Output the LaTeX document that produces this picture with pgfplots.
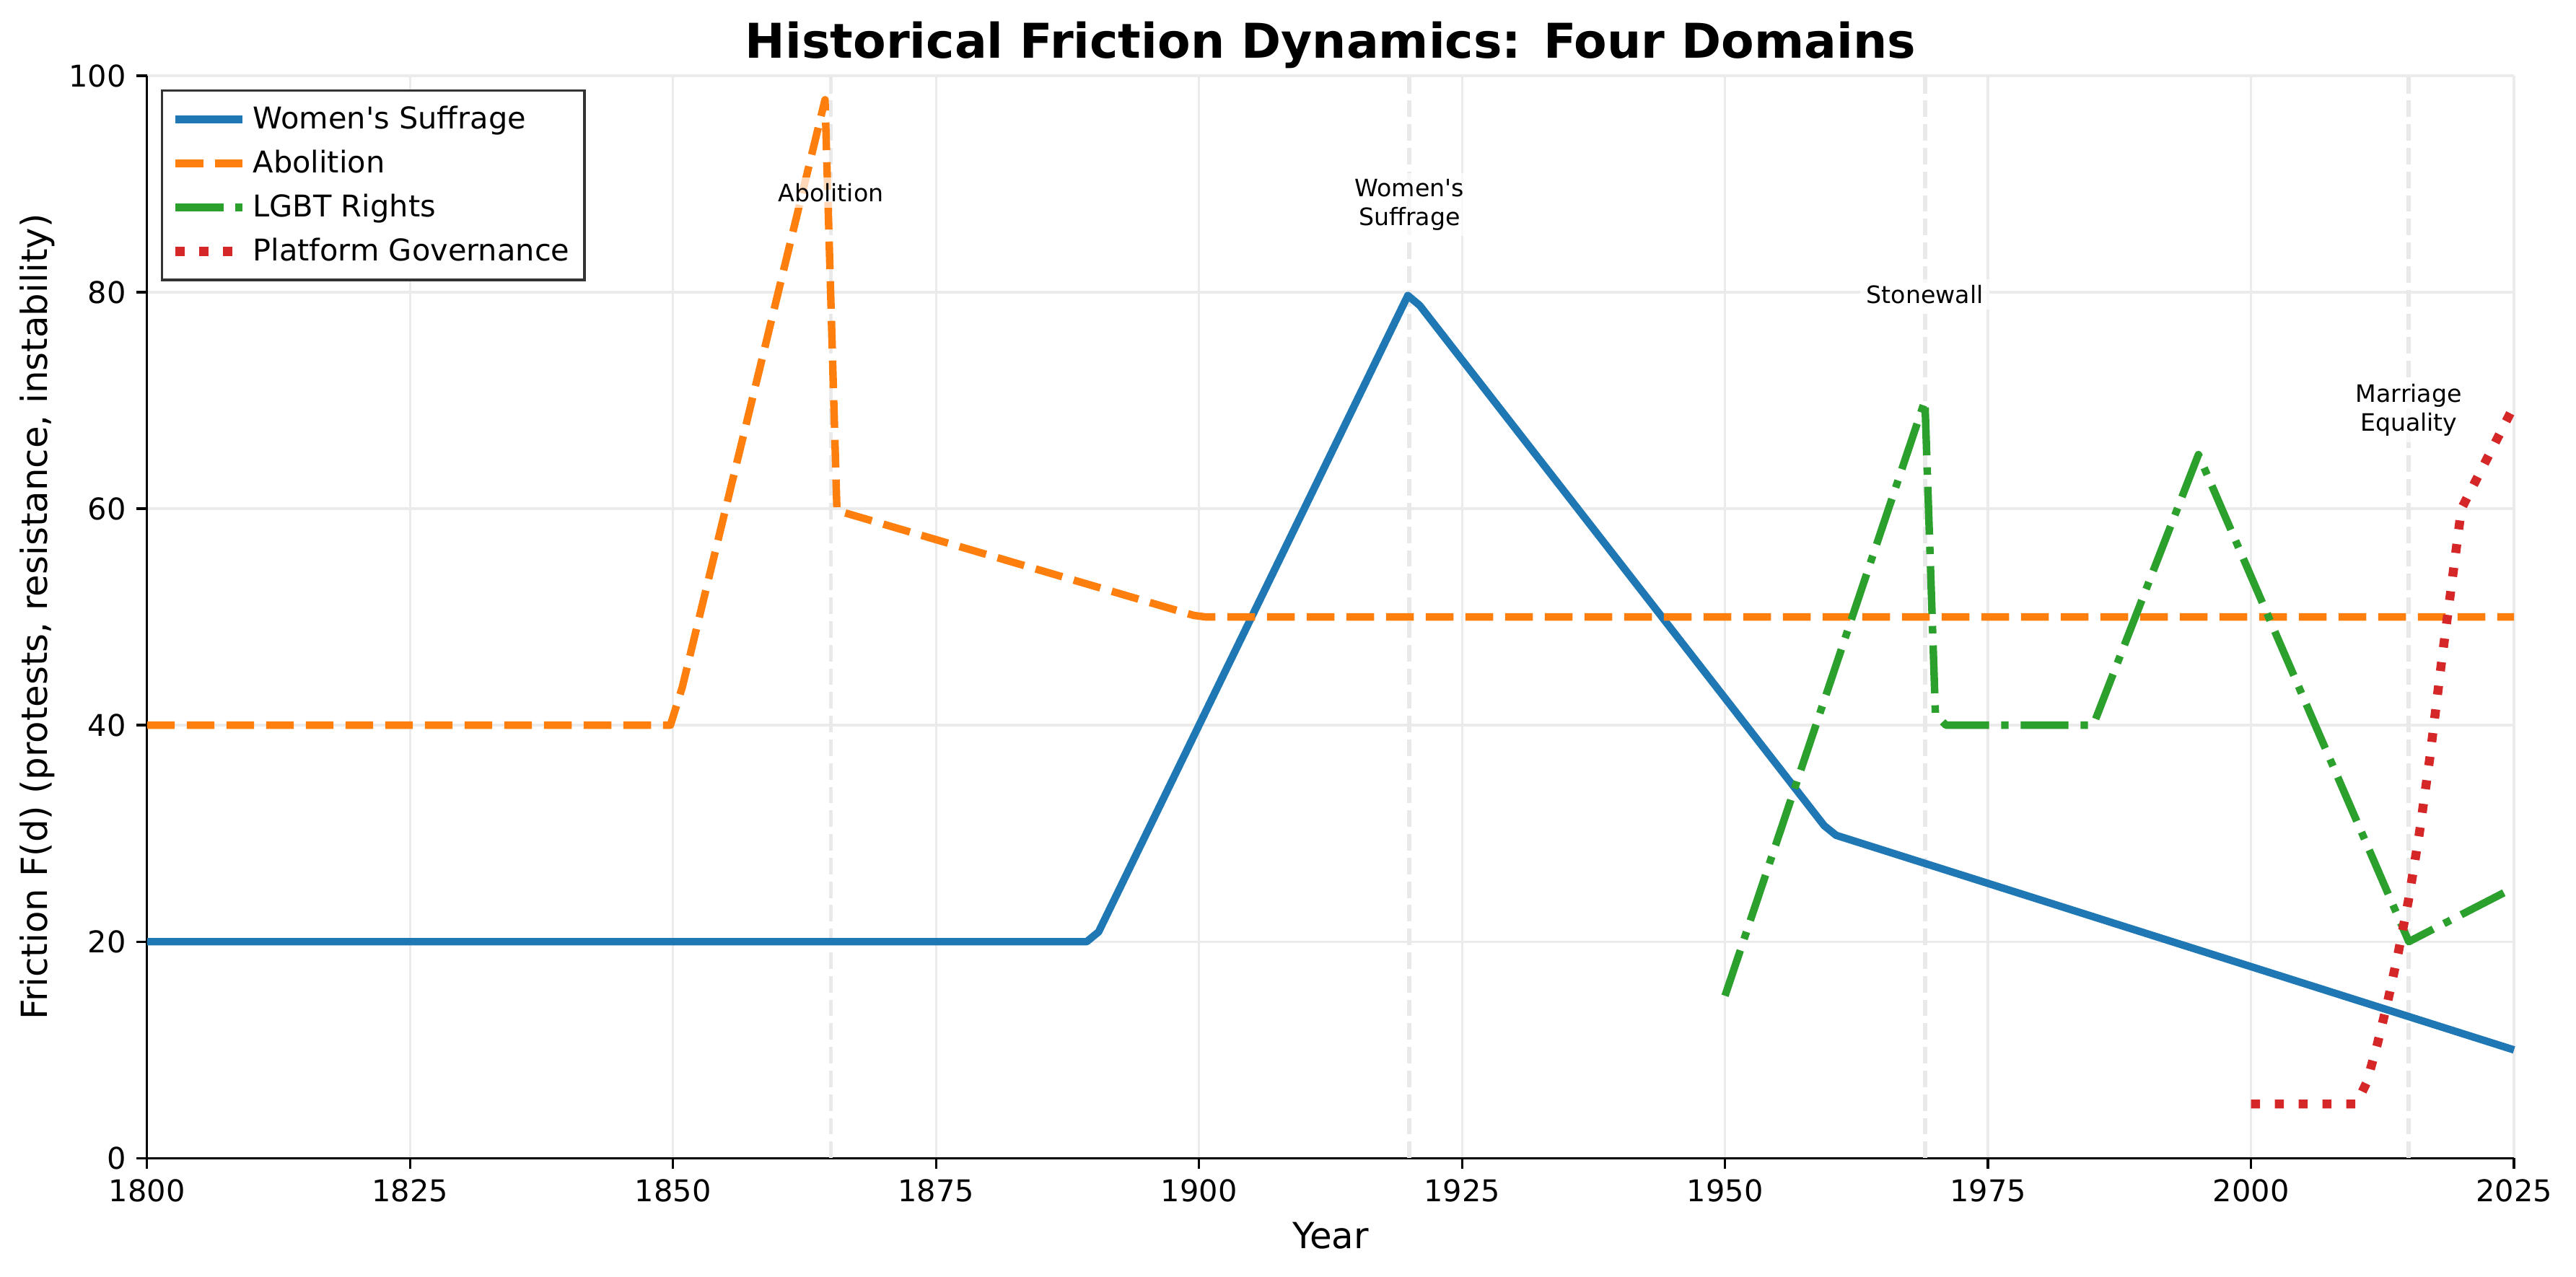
\documentclass[border=0pt]{standalone}
\usepackage{fontspec}
\setmainfont{DejaVu Sans}
\usepackage{pgfplots}
\pgfplotsset{compat=1.18}

\definecolor{c1}{HTML}{1F77B4}
\definecolor{c2}{HTML}{FF7F0E}
\definecolor{c3}{HTML}{2CA02C}
\definecolor{c4}{HTML}{D62728}
\definecolor{gridc}{HTML}{EBEBEB}
\definecolor{evc}{HTML}{E9E9E9}

\begin{document}
\begin{tikzpicture}
\begin{axis}[
    scale only axis,
    width=790.2pt, height=361.4pt,
    xmin=1800, xmax=2025, ymin=0, ymax=100,
    xtick={1800,1825,...,2025}, ytick={0,20,...,100},
    axis lines*=left,
    axis line style={line width=0.8pt, -},
    tick align=outside,
    major tick length=3.5pt,
    tick style={line width=0.8pt, black},
    grid=major,
    grid style={gridc, line width=0.8pt},
    /pgf/number format/assume math mode=true,
    /pgf/number format/1000 sep={},
    tick label style={font=\fontsize{10}{12}\selectfont},
    xlabel={Year},
    ylabel={Friction F(d) (protests, resistance, instability)},
    label style={font=\fontsize{12}{14}\selectfont},
    xlabel style={at={(axis description cs:0.5,-0.0833)}, anchor=base},
    ylabel style={at={(axis description cs:-0.0463,0.5)}, anchor=center},
    clip=false,
    legend cell align=left,
    legend image code/.code={\draw[#1] (0pt,0pt) -- (22.4pt,0pt);},
    legend style={
        at={(rel axis cs:0.0058,0.9873)}, anchor=north west,
        draw=black!80, line width=0.8pt,
        font=\fontsize{10}{12}\selectfont,
        inner xsep=3pt, inner ysep=3pt,
        row sep=1.6pt,
        fill=white,
    },
]
\coordinate (sw) at (rel axis cs:0,0);
\coordinate (ne) at (rel axis cs:1,1);

% event markers
\foreach \yr in {1865,1920,1969,2015} {
    \edef\tmp{\noexpand\draw[evc, line width=1.4pt, dash pattern=on 5.5pt off 2.4pt]
        (axis cs:\yr,0) -- (axis cs:\yr,100);}
    \tmp
}

\addplot[c1, line width=2.5pt, line join=round] coordinates {
    (1800,20) (1889.322,20) (1890.452,20.905) (1919.849,79.698)
    (1920.980,78.775) (1959.422,30.722) (1960.553,29.830) (2025,10)
};
\addlegendentry{Women\textquotesingle s Suffrage}

\addplot[c2, line width=2.5pt, dash pattern=on 9.25pt off 4pt, line join=round] coordinates {
    (1800,40) (1849.749,40) (1850.879,43.518) (1864.447,97.789)
    (1865.578,59.835) (1899.497,50.144) (1900.628,50) (2025,50)
};
\addlegendentry{Abolition}

\addplot[c3, line width=2.5pt, dash pattern=on 16pt off 4pt on 2.5pt off 4pt, line join=round] coordinates {
    (1950,15) (1969,70) (1970,41) (1971,40) (1985,40) (1995,65) (2015,20) (2025,25)
};
\addlegendentry{LGBT Rights}

\addplot[c4, line width=3pt, dash pattern=on 3pt off 4.95pt, line join=round] coordinates {
    (2000,5) (2010,5) (2011,7) (2012,10.5) (2013,14.5) (2014,19) (2015,24)
    (2016,30) (2017,37) (2018,45) (2019,52.5) (2020,60) (2025,69.5)
};
\addlegendentry{Platform Governance}

% annotations
\tikzset{ann/.style={fill=white, fill opacity=0.7, text opacity=1, inner sep=2pt,
    align=center, font=\fontsize{8}{9.6}\selectfont}}
\node[ann] at (axis cs:1865,89.2) {Abolition};
\node[ann] at (axis cs:1920,88.1) {Women\textquotesingle s\\Suffrage};
\node[ann] at (axis cs:1969,79.8) {Stonewall};
\node[ann] at (axis cs:2015,69.1) {Marriage\\Equality};

% title
\node[anchor=base, font=\fontsize{16}{19}\selectfont\bfseries]
    at (axis description cs:0.5,1.0166) {Historical Friction Dynamics: Four Domains};
\end{axis}
\pgfresetboundingbox
\path ([shift={(-49.1pt,-39.5pt)}]sw) rectangle ([shift={(20.7pt,25.3pt)}]ne);
\end{tikzpicture}
\end{document}
